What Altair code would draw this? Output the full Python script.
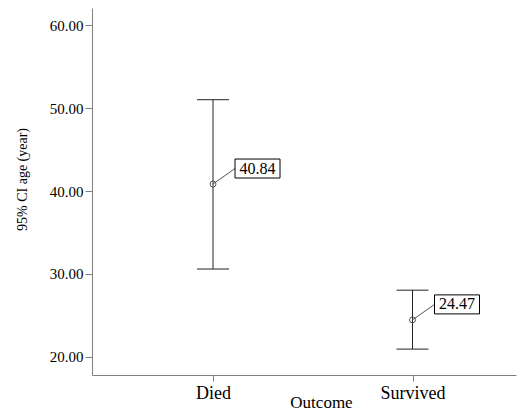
import altair as alt
import pandas as pd

categories = ["Died", "Survived"]
means = [40.84, 24.47]
lower = [30.6, 20.95]
upper = [51.0, 28.05]
y_ticks = [20, 30, 40, 50, 60]

df = pd.DataFrame({
    "idx": list(range(len(categories))),
    "cat": categories,
    "mean": means,
    "lower": lower,
    "upper": upper,
})

FONT = "Liberation Serif"
label_expr = "[" + ",".join("'" + c + "'" for c in categories) + "][datum.value]"

xscale = alt.Scale(domain=[-0.6066, 1.5188], nice=False, zero=False)
yscale = alt.Scale(domain=[17.83, 62.05], nice=False, zero=False)

x_enc = alt.X("idx:Q", scale=xscale, axis=alt.Axis(
    values=[0, 1], labelExpr=label_expr, title="Outcome", grid=False,
    labelFontSize=18, labelPadding=3, tickSize=6, labelFlush=False,
    labelFont=FONT, titleFont=FONT,
    titleFontSize=17, titleFontWeight="normal", titleX=229, titleY=32,
    titleBaseline="alphabetic", titleAlign="center", titleAnchor="start"))
y_enc = alt.Y("lower:Q", scale=yscale, axis=alt.Axis(
    values=y_ticks, format=".2f", title="95% CI age (year)", grid=False,
    labelFontSize=15, labelPadding=2, tickSize=7,
    labelFont=FONT, titleFont=FONT,
    titleFontSize=14, titleFontWeight="normal", titleX=-70, titleY=171,
    titleAngle=270, titleAlign="center", titleBaseline="middle", titleAnchor="start"))

base = alt.Chart(df)

stem = base.mark_rule(color="#222222", strokeWidth=1).encode(
    x=x_enc, y=y_enc, y2="upper:Q")

cap_top = base.mark_rule(color="#222222", strokeWidth=1, xOffset=-16, x2Offset=16).encode(
    x="idx:Q", x2="idx:Q", y="upper:Q")
cap_bot = base.mark_rule(color="#222222", strokeWidth=1, xOffset=-16, x2Offset=16).encode(
    x="idx:Q", x2="idx:Q", y="lower:Q")

connector = base.mark_rule(color="#555555", strokeWidth=1, x2Offset=22, y2Offset=-15.5).encode(
    x="idx:Q", x2="idx:Q", y="mean:Q", y2="mean:Q")

dot = base.mark_point(shape="circle", filled=False, size=36, color="#555555", strokeWidth=1, opacity=1).encode(
    x="idx:Q", y="mean:Q")

box = base.mark_rect(fill="white", stroke="black", strokeWidth=1,
                     xOffset=22, x2Offset=67, yOffset=-25, y2Offset=-6).encode(
    x="idx:Q", x2="idx:Q", y="mean:Q", y2="mean:Q")

txt = base.mark_text(font=FONT, fontSize=16, color="black", dx=44.5, dy=-15.5,
                     align="center", baseline="middle").encode(
    x="idx:Q", y="mean:Q", text=alt.Text("mean:Q", format=".2f"))

chart = alt.layer(stem, cap_top, cap_bot, connector, dot, box, txt).properties(
    width=424, height=367,
    padding={"left": 84, "top": 0, "right": 1, "bottom": 37},
    autosize=alt.AutoSizeParams(type="none"),
    background="white",
).configure_view(stroke="transparent").configure_axis(
    labelFont=FONT, titleFont=FONT, labelColor="black", titleColor="black",
    domainColor="#808080", tickColor="#808080", domainWidth=1, tickWidth=1,
)

chart.save("out.html", embed_options={"renderer": "svg", "actions": False})
